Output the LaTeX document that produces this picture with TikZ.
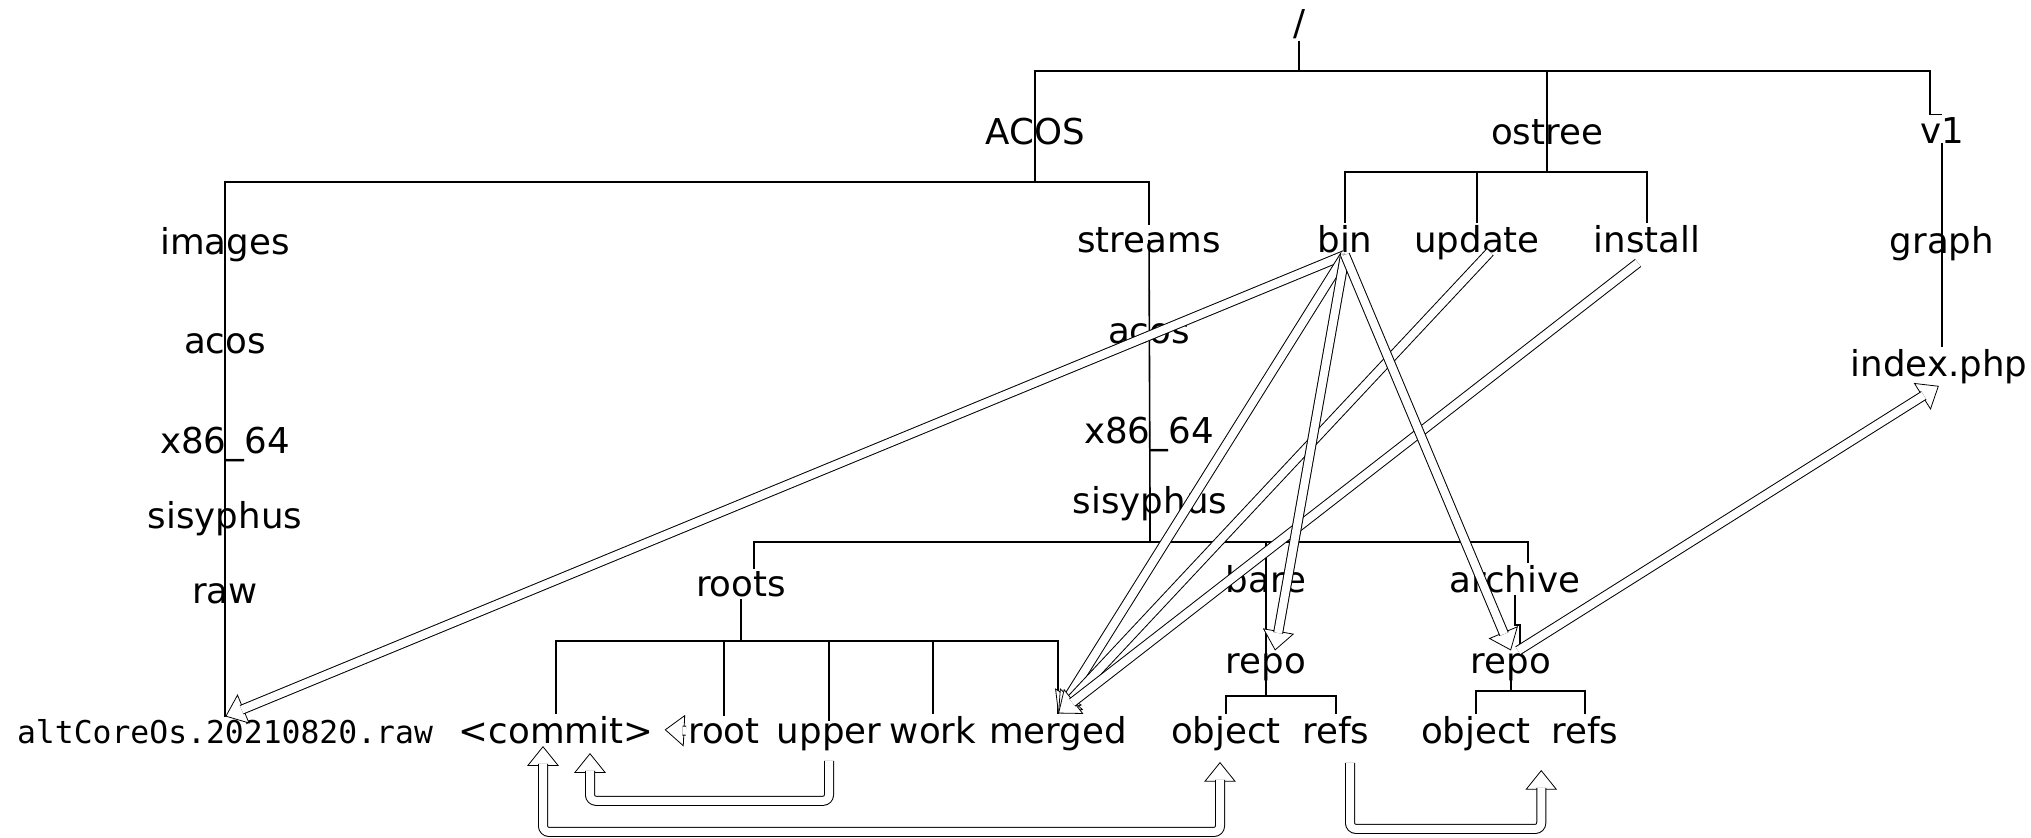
\documentclass[tikz,border=0pt]{standalone}
\usepackage{fontspec}
\setmainfont{DejaVu Sans}
\setmonofont{DejaVu Sans Mono}
\usetikzlibrary{arrows.meta, decorations.markings}
\tikzset{
  dir/.style={
    anchor=base,
    inner sep=1pt,
    font=\fontsize{17.8}{20}\selectfont
  },
  tree/.style={
    draw=black,
    line width=0.8pt
  },
  head/.tip={Triangle[length=10pt, width=16pt, line width=0.5pt, fill=white]},
  link/.style={
    double, double distance=4pt, line width=0.5pt, shorten >=9pt,
    preaction={decorate, decoration={markings, mark=at position 1 with {\arrow{head}}}}
  },
  linkboth/.style={
    link, shorten <=9pt,
    preaction={decorate, decoration={markings, mark=at position 0 with {\arrowreversed{head}}}}
  }
}
\def\file#1{{\fontsize{15.7}{18}\ttfamily #1}}

\begin{document}
\begin{tikzpicture}[x=0.5pt, y=-0.5pt]
    \useasboundingbox (0, 0) rectangle (2031, 837);
    % top
    \node[dir] (slash) at (1299, 35) {/};
    \node[dir] (acosdir) at (1035, 144) {ACOS};
    \node[dir] (ostree) at (1547, 144) {ostree};
    \node[dir] (vone) at (1942, 143) {v1};
    % ACOS/images
    \node[dir] (images) at (225, 254) {images};
    \node[dir] (imgacos) at (225, 353) {acos};
    \node[dir] (imgarch) at (225, 453) {x86\_64};
    \node[dir] (imgsis) at (225, 528) {sisyphus};
    \node[dir] (imgraw) at (225, 603) {raw};
    \node[dir] (rawfile) at (225, 743) {\file{altCoreOs.20210820.raw}};
    % ACOS/streams
    \node[dir] (streams) at (1149, 252) {streams};
    \node[dir] (stracos) at (1149, 343) {acos};
    \node[dir] (strarch) at (1149, 443) {x86\_64};
    \node[dir] (strsis) at (1150, 513) {sisyphus};
    \node[dir] (roots) at (741, 596) {roots};
    \node[dir] (bare) at (1266, 592) {bare};
    \node[dir] (archive) at (1515, 592) {archive};
    \node[dir] (barerepo) at (1266, 673) {repo};
    \node[dir] (arcrepo) at (1511, 673) {repo};
    \node[dir] (commit) at (556, 743) {<commit>};
    \node[dir] (rootdir) at (724, 743) {root};
    \node[dir] (upper) at (829, 743) {upper};
    \node[dir] (work) at (933, 743) {work};
    \node[dir] (merged) at (1058, 743) {merged};
    \node[dir] (barobj) at (1226, 743) {object};
    \node[dir] (barrefs) at (1336, 743) {refs};
    \node[dir] (arcobj) at (1476, 743) {object};
    \node[dir] (arcrefs) at (1585, 743) {refs};
    % ostree
    \node[dir] (bin) at (1345, 252) {bin};
    \node[dir] (update) at (1477, 252) {update};
    \node[dir] (install) at (1647, 252) {install};
    % v1
    \node[dir] (graph) at (1942, 253) {graph};
    \node[dir] (indexphp) at (1939, 376) {index.php};

    % tree
    \draw[tree] (slash.south) -- (slash.south |- 0,71);
    \draw[tree] (acosdir.center |- 0,182) -- (acosdir.center |- 0,71) -- (1930, 71) |- (vone.north);
    \draw[tree] (ostree.center |- 0,71) -- (ostree.center |- 0,172);
    \draw[tree] (vone.base) -- (vone.base |- indexphp.north);
    \draw[tree] (rawfile.north) -- (images.center |- 0,182) -| (streams.north);
    \draw[tree] (streams.center) -- (strsis.center) -- (strsis.center |- 0,542);
    \draw[tree] ([xshift=6.5pt]roots.north) -- ([xshift=6.5pt]roots.north |- 0,542) -| ([xshift=6.5pt]archive.north);
    \draw[tree] (bare.center |- 0,542) -- (barerepo.center |- 0,696);
    \draw[tree] (barobj.north) |- (barerepo.center |- 0,696) -| (barrefs.north);
    \draw[tree] (archive.south) -- ++(0, 30) -| ([xshift=4.5pt]arcrepo.north);
    \draw[tree] (arcrepo.center) -- (arcrepo.center |- 0,691);
    \draw[tree] (arcobj.north) |- (arcrepo.center |- 0,691) -| (arcrefs.north);
    \draw[tree] (roots.south) -- (roots.south |- 0,641);
    \draw[tree] (commit.north) |- (roots.south |- 0,641) -| (merged.north);
    \draw[tree] (rootdir.north) -- (rootdir.north |- 0,641);
    \draw[tree] (upper.north) -- (upper.north |- 0,641);
    \draw[tree] (work.north) -- (work.north |- 0,641);
    \draw[tree] (bin.north) |- (ostree.center |- 0,172) -| (install.north);
    \draw[tree] (update.north) -- (update.north |- 0,172);

    % links
    \draw[link] (bin.south) -- (rawfile.north);
    \draw[link] (bin.south) -- (merged.north);
    \draw[link] ([xshift=6.5pt]update.base) -- (merged.north);
    \draw[link] ([xshift=-4.5pt, yshift=-4pt]install.south) -- (merged.north);
    \draw[link] (bin.south) -- ([xshift=4.5pt]barerepo.north);
    \draw[link] (bin.south) -- (arcrepo.north);
    \draw[link] ([xshift=3.5pt]arcrepo.north) -- (indexphp.south);
    \draw[link] (rootdir.west) -- ([xshift=4.5pt]commit.east);
    \draw[link, rounded corners=3pt] ([yshift=-4pt]upper.south) -- ++(0, 40) -| ([xshift=17pt, yshift=-3.5pt]commit.south);
    \draw[linkboth, rounded corners=3pt] ([xshift=-6.5pt]commit.south) -- ++(0, 86) -| ([xshift=-3pt, yshift=-4.5pt]barobj.south);
    \draw[link, rounded corners=3pt] ([xshift=7pt, yshift=-8.5pt]barrefs.south) -- ++(0, 66) -| ([xshift=4pt, yshift=-8.5pt]arcobj.south east);
\end{tikzpicture}
\end{document}
